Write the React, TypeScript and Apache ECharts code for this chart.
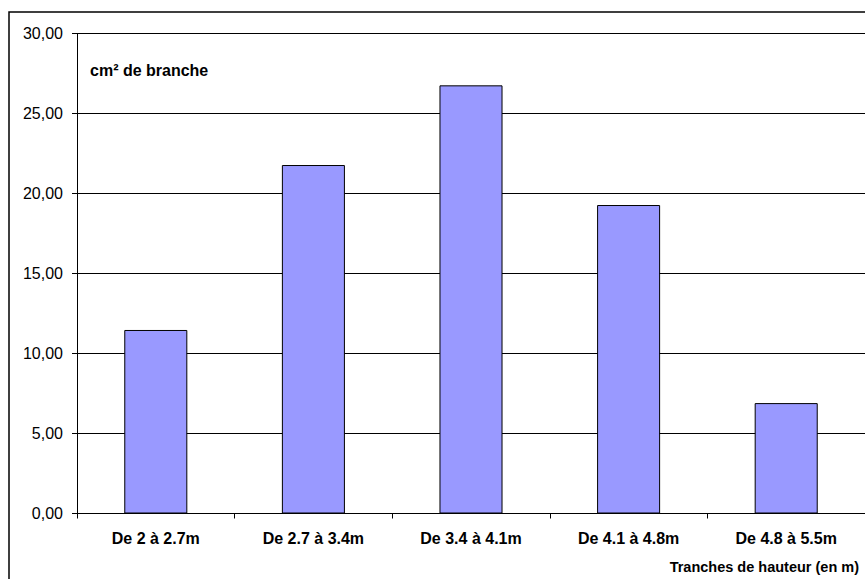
import React, { useEffect, useRef } from "react";
import * as echarts from "echarts";

const categories = ["De 2 à 2.7m", "De 2.7 à 3.4m", "De 3.4 à 4.1m", "De 4.1 à 4.8m", "De 4.8 à 5.5m"];
const values = [11.47, 21.78, 26.76, 19.28, 6.9];
const yMin = 0;
const yMax = 30;
const yInterval = 5;
const valueTitle = "cm² de branche";
const axisTitle = "Tranches de hauteur (en m)";

export default function App() {
  const ref = useRef<HTMLDivElement>(null);
  useEffect(() => {
    if (!ref.current) return;
    const chart = echarts.init(ref.current, null, { renderer: "svg" });
    const font = "Arial, 'Liberation Sans', sans-serif";
    chart.setOption({
      animation: false,
      backgroundColor: "#ffffff",
      grid: { left: 77, top: 33.5, width: 797.5, height: 480, containLabel: false },
      xAxis: {
        type: "category",
        data: categories,
        boundaryGap: true,
        axisLine: { show: true, lineStyle: { color: "#000", width: 1 } },
        axisTick: { show: true, alignWithLabel: false, length: 5, inside: false, lineStyle: { color: "#000" } },
        axisLabel: { color: "#000", fontFamily: font, fontSize: 16, fontWeight: "bold", margin: 17, interval: 0 },
        splitLine: { show: false },
      },
      yAxis: {
        type: "value",
        min: yMin,
        max: yMax,
        interval: yInterval,
        axisLine: { show: true, lineStyle: { color: "#000", width: 1 } },
        axisTick: { show: true, length: 5, inside: false, lineStyle: { color: "#000" } },
        axisLabel: {
          color: "#000",
          fontFamily: font,
          fontSize: 16,
          margin: 14,
          formatter: (v: number) => v.toFixed(2).replace(".", ","),
        },
        splitLine: { show: true, lineStyle: { color: "#000", width: 1 } },
      },
      series: [
        {
          type: "bar",
          data: values,
          barWidth: "40%",
          itemStyle: { color: "#9999FF", borderColor: "#000", borderWidth: 1 },
        },
      ],
      graphic: [
        {
          type: "rect",
          shape: { x: 9, y: 12, width: 1000, height: 1000 },
          style: { fill: "none", stroke: "#000", lineWidth: 1.5 },
          silent: true,
        },
        {
          type: "text",
          x: 90,
          y: 70,
          style: { text: valueTitle, fill: "#000", font: `bold 16px ${font}`, textAlign: "left", textVerticalAlign: "middle" },
        },
        {
          type: "text",
          x: 859,
          y: 567,
          style: { text: axisTitle, fill: "#000", font: `bold 14.5px ${font}`, textAlign: "right", textVerticalAlign: "middle" },
        },
      ],
    });
    return () => chart.dispose();
  }, []);
  return <div ref={ref} style={{ position: "fixed", left: 0, top: 0, width: 865, height: 579 }} />;
}
